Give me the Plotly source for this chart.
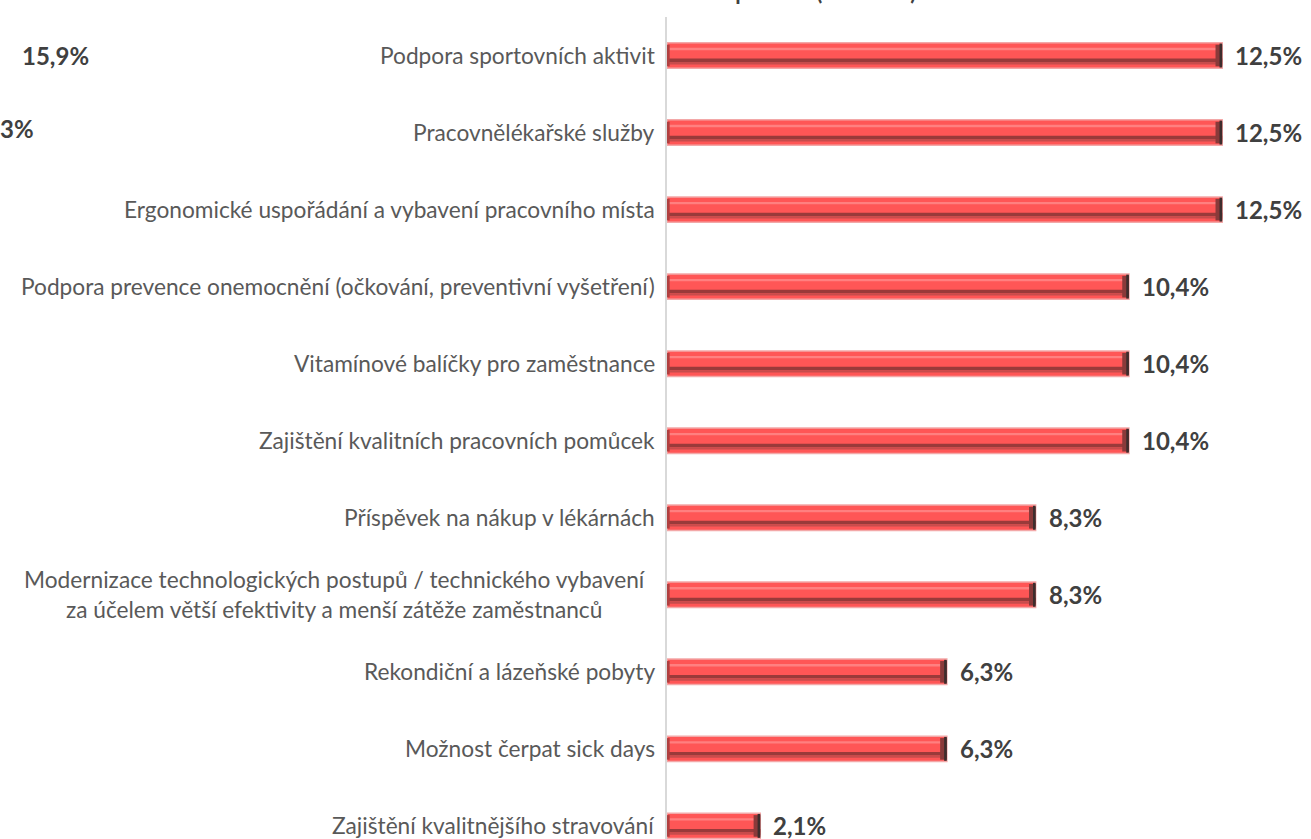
import plotly.graph_objects as go

categories = [
    "Podpora sportovních aktivit",
    "Pracovnělékařské služby",
    "Ergonomické uspořádání a vybavení pracovního místa",
    "Podpora prevence onemocnění (očkování, preventivní vyšetření)",
    "Vitamínové balíčky pro zaměstnance",
    "Zajištění kvalitních pracovních pomůcek",
    "Příspěvek na nákup v lékárnách",
    "Modernizace technologických postupů / technického vybavení<br>za účelem větší efektivity a menší zátěže zaměstnanců",
    "Rekondiční a lázeňské pobyty",
    "Možnost čerpat sick days",
    "Zajištění kvalitnějšího stravování",
]
values = [12.5, 12.5, 12.5, 10.4, 10.4, 10.4, 8.3, 8.3, 6.3, 6.3, 2.1]
value_labels = ["12,5%", "12,5%", "12,5%", "10,4%", "10,4%", "10,4%",
                "8,3%", "8,3%", "6,3%", "6,3%", "2,1%"]
axis_title = "Počet procent (0 - 100%)"
side_labels = ["15,9%", "3%"]

FONT = "Lato"
W, H = 1311, 839
ML, MT = 667, 17

fig = go.Figure()
BW = 0.33
n = len(values)
# main bar body
fig.add_bar(y=categories, x=values, orientation="h", width=BW,
            marker=dict(color="#FF5656", line=dict(color="#F3A8A8", width=1.5)),
            hoverinfo="skip")
# top highlight
fig.add_bar(y=categories, x=values, orientation="h", width=0.03, offset=-0.1,
            marker=dict(color="#FF8080", line=dict(width=0)), hoverinfo="skip")
# dark lower band
fig.add_bar(y=categories, x=values, orientation="h", width=0.045, offset=0.04,
            marker=dict(color="#9A3A3A", line=dict(width=0)), hoverinfo="skip")
fig.add_bar(y=categories, x=values, orientation="h", width=0.03, offset=0.085,
            marker=dict(color="#C84C4C", line=dict(width=0)), hoverinfo="skip")
# bevel end caps
cap1, cap2, capl = 0.15, 0.06, 0.06
fig.add_bar(y=categories, x=[cap1] * n, base=[v - cap1 for v in values],
            orientation="h", width=BW - 0.05,
            marker=dict(color="#8A3A3A", line=dict(width=0)), hoverinfo="skip")
fig.add_bar(y=categories, x=[cap2] * n, base=[v - cap2 for v in values],
            orientation="h", width=BW - 0.02,
            marker=dict(color="#3E2D2D", line=dict(width=0)), hoverinfo="skip")
fig.add_bar(y=categories, x=[capl] * n, base=[0] * n,
            orientation="h", width=BW - 0.05,
            marker=dict(color="#B04040", line=dict(width=0)), hoverinfo="skip")

for c, v, t in zip(categories, values, value_labels):
    fig.add_annotation(x=v, y=c, xref="x", yref="y", text=t, showarrow=False,
                       xanchor="left", xshift=11,
                       font=dict(family=FONT, size=24, color="#404040", weight="bold"))
    fig.add_annotation(x=0, y=c, xref="paper", yref="y", text=c, showarrow=False,
                       xanchor="right", xshift=-19 if "<br>" in c else -10,
                       align="center",
                       font=dict(family=FONT, size=22.7, color="#595959"))

plot_w = W - ML
fig.add_annotation(x=(918 - ML) / plot_w, y=1, xref="paper", yref="paper",
                   text=axis_title, showarrow=False, xanchor="right",
                   yanchor="bottom", yshift=10,
                   font=dict(family=FONT, size=22, color="#404040", weight="bold"))
fig.add_annotation(x=(20 - ML) / plot_w, y=categories[0], xref="paper", yref="y",
                   text=side_labels[0], showarrow=False, xanchor="left",
                   font=dict(family=FONT, size=24, color="#404040", weight="bold"))
fig.add_annotation(x=(-2 - ML) / plot_w, y=categories[1], xref="paper", yref="y",
                   text=side_labels[1], showarrow=False, xanchor="left", yshift=4,
                   font=dict(family=FONT, size=24, color="#404040", weight="bold"))

fig.update_layout(
    width=W, height=H, barmode="overlay", showlegend=False,
    margin=dict(l=ML, r=0, t=MT, b=0),
    paper_bgcolor="#FFFFFF", plot_bgcolor="#FFFFFF",
    xaxis=dict(range=[0, 14.5], visible=False, fixedrange=True),
    yaxis=dict(type="category", range=[10.17, -0.5], showticklabels=False,
               showgrid=False, zeroline=False, showline=True,
               linecolor="#D9D9D9", linewidth=1.5, ticks="", fixedrange=True),
)
fig.write_html("out.html", config={"displayModeBar": False},
               post_script="document.body.style.margin='0';document.body.style.overflow='hidden';")
